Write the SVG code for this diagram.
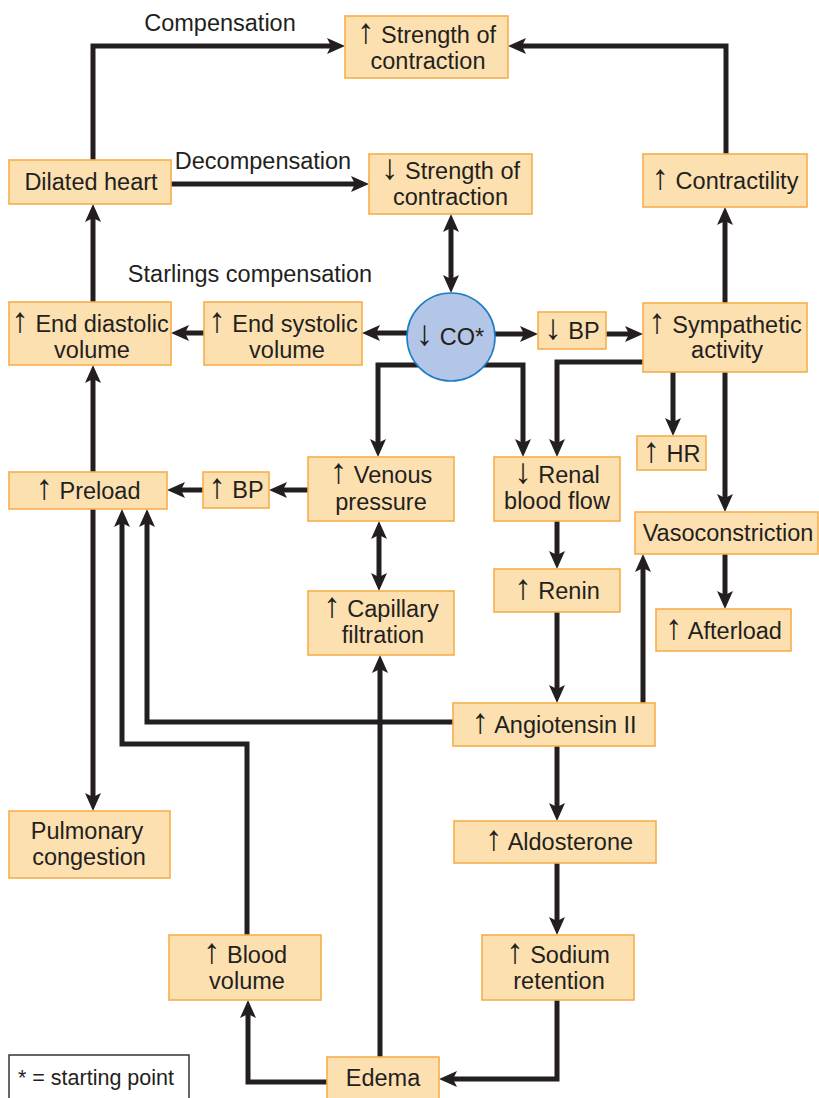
<svg xmlns="http://www.w3.org/2000/svg" width="819" height="1098" viewBox="0 0 819 1098">
<style>
.box{fill:#fde0b0;stroke:#f6ae4c;stroke-width:1.6}
.t{font-family:"Liberation Sans",Arial,"DejaVu Sans",sans-serif;font-size:23.5px;fill:#231f20;text-anchor:middle}
.ar{font-size:35px}
.lbl{font-family:"Liberation Sans",Arial,"DejaVu Sans",sans-serif;font-size:23.5px;fill:#231f20;text-anchor:middle}
.c{fill:none;stroke:#231f20;stroke-width:5;stroke-linejoin:miter}
.a{marker-end:url(#ah)}
.b{marker-start:url(#ah);marker-end:url(#ah)}
</style>
<defs>
<marker id="ah" viewBox="0 0 18 16" refX="10" refY="8" markerWidth="18" markerHeight="16" markerUnits="userSpaceOnUse" orient="auto-start-reverse">
<path d="M0,0 L18,8 L0,16 L4,8 z" fill="#231f20"/>
</marker>
</defs>
<rect width="819" height="1098" fill="#ffffff"/>

<g id="connectors">
<path class="c a" d="M93,160 V46 H337"/>
<path class="c a" d="M171,184 H361"/>
<path class="c a" d="M726,154 V46 H516"/>
<path class="c b" d="M451,222 V285"/>
<path class="c a" d="M725,303 V215"/>
<path class="c a" d="M410,333 H370"/>
<path class="c a" d="M204,333 H179"/>
<path class="c a" d="M93,302 V212"/>
<path class="c a" d="M492,334 H530"/>
<path class="c a" d="M606,334 H635"/>
<path class="c a" d="M430,365 H378 V449"/>
<path class="c a" d="M470,365 H523 V449"/>
<path class="c a" d="M643,362 H557 V449"/>
<path class="c a" d="M673,372 V428"/>
<path class="c a" d="M725,372 V504"/>
<path class="c a" d="M725,554 V601"/>
<path class="c a" d="M308,490 H277"/>
<path class="c a" d="M203,490 H175"/>
<path class="c b" d="M379,529 V583"/>
<path class="c a" d="M557,521 V561"/>
<path class="c a" d="M557,612 V695"/>
<path class="c a" d="M643,703 V562"/>
<path class="c a" d="M453,722 H147 V517"/>
<path class="c a" d="M247,935 V744 H122 V517"/>
<path class="c a" d="M93,472 V373"/>
<path class="c a" d="M93,509 V803"/>
<path class="c a" d="M380,1057 V663"/>
<path class="c a" d="M327,1082 H248 V1008"/>
<path class="c a" d="M557,746 V813"/>
<path class="c a" d="M557,863 V927"/>
<path class="c a" d="M557,1000 V1079 H447"/>
</g>

<g id="labels">
<text class="lbl" x="220" y="31">Compensation</text>
<text class="lbl" x="263" y="169">Decompensation</text>
<text class="lbl" x="250" y="282">Starlings compensation</text>
</g>

<g id="strength-up"><rect class="box" x="345" y="16" width="163" height="62"/>
<text class="t" x="426.5" y="43"><tspan class="ar">↑</tspan> Strength of</text><text class="t" x="428" y="69">contraction</text></g>

<g id="dilated-heart"><rect class="box" x="9" y="160" width="162" height="44"/>
<text class="t" x="91" y="190">Dilated heart</text></g>

<g id="strength-down"><rect class="box" x="369" y="154" width="163" height="60"/>
<text class="t" x="450.5" y="179"><tspan class="ar">↓</tspan> Strength of</text><text class="t" x="450.5" y="205">contraction</text></g>

<g id="contractility"><rect class="box" x="643" y="154" width="164" height="53"/>
<text class="t" x="725" y="189"><tspan class="ar">↑</tspan> Contractility</text></g>

<g id="edv"><rect class="box" x="9" y="302" width="162" height="63"/>
<text class="t" x="90" y="332"><tspan class="ar">↑</tspan> End diastolic</text><text class="t" x="92" y="358">volume</text></g>

<g id="esv"><rect class="box" x="204" y="302" width="158" height="63"/>
<text class="t" x="283" y="332"><tspan class="ar">↑</tspan> End systolic</text><text class="t" x="287" y="358">volume</text></g>

<g id="co"><circle cx="451" cy="337" r="44" fill="#b3c6e7" stroke="#1f7dc4" stroke-width="1.6"/>
<text class="t" x="450" y="345"><tspan class="ar">↓</tspan> CO*</text></g>

<g id="bp-down"><rect class="box" x="538" y="312" width="68" height="37"/>
<text class="t" x="572" y="339"><tspan class="ar">↓</tspan> BP</text></g>

<g id="sympathetic"><rect class="box" x="643" y="303" width="164" height="69"/>
<text class="t" x="725" y="333"><tspan class="ar">↑</tspan> Sympathetic</text><text class="t" x="727" y="358">activity</text></g>

<g id="hr"><rect class="box" x="637" y="436" width="69" height="34"/>
<text class="t" x="671.5" y="462"><tspan class="ar">↑</tspan> HR</text></g>

<g id="preload"><rect class="box" x="9" y="472" width="158" height="37"/>
<text class="t" x="88" y="499"><tspan class="ar">↑</tspan> Preload</text></g>

<g id="bp-up"><rect class="box" x="203" y="472" width="66" height="36"/>
<text class="t" x="236" y="498"><tspan class="ar">↑</tspan> BP</text></g>

<g id="venous"><rect class="box" x="308" y="457" width="146" height="64"/>
<text class="t" x="381" y="483"><tspan class="ar">↑</tspan> Venous</text><text class="t" x="381" y="510">pressure</text></g>

<g id="renal"><rect class="box" x="494" y="457" width="126" height="64"/>
<text class="t" x="557" y="483"><tspan class="ar">↓</tspan> Renal</text><text class="t" x="557" y="509">blood flow</text></g>

<g id="vaso"><rect class="box" x="635" y="512" width="183" height="42"/>
<text class="t" x="728" y="541">Vasoconstriction</text></g>

<g id="capillary"><rect class="box" x="308" y="591" width="146" height="64"/>
<text class="t" x="381" y="617"><tspan class="ar">↑</tspan> Capillary</text><text class="t" x="383" y="643">filtration</text></g>

<g id="renin"><rect class="box" x="494" y="569" width="126" height="43"/>
<text class="t" x="557" y="599"><tspan class="ar">↑</tspan> Renin</text></g>

<g id="afterload"><rect class="box" x="656" y="609" width="135" height="42"/>
<text class="t" x="723.5" y="639"><tspan class="ar">↑</tspan> Afterload</text></g>

<g id="angiotensin"><rect class="box" x="453" y="703" width="202" height="43"/>
<text class="t" x="554" y="733"><tspan class="ar">↑</tspan> Angiotensin II</text></g>

<g id="pulmonary"><rect class="box" x="9" y="811" width="161" height="67"/>
<text class="t" x="87" y="839">Pulmonary</text><text class="t" x="89" y="865">congestion</text></g>

<g id="aldosterone"><rect class="box" x="454" y="821" width="202" height="42"/>
<text class="t" x="559" y="850"><tspan class="ar">↑</tspan> Aldosterone</text></g>

<g id="blood-volume"><rect class="box" x="169" y="935" width="152" height="65"/>
<text class="t" x="245" y="963"><tspan class="ar">↑</tspan> Blood</text><text class="t" x="247" y="989">volume</text></g>

<g id="sodium"><rect class="box" x="482" y="935" width="152" height="65"/>
<text class="t" x="558" y="963"><tspan class="ar">↑</tspan> Sodium</text><text class="t" x="559" y="989">retention</text></g>

<g id="edema"><rect class="box" x="327" y="1057" width="112" height="44"/>
<text class="t" x="383" y="1086">Edema</text></g>

<g id="legend"><rect x="9" y="1055" width="180" height="46" fill="#ffffff" stroke="#333333" stroke-width="1.5"/>
<text x="18" y="1085" font-family="'Liberation Sans',Arial,sans-serif" font-size="21.5" fill="#231f20">* = starting point</text></g>
</svg>
